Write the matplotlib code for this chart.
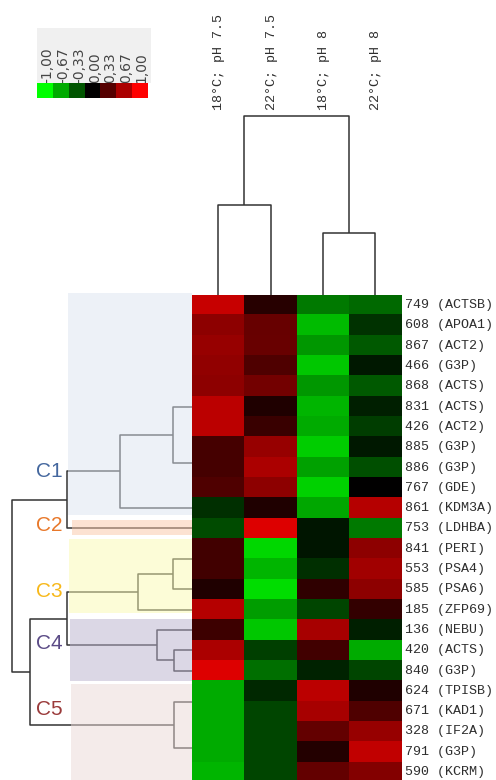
import numpy as np
import matplotlib
matplotlib.use("Agg")
import matplotlib.pyplot as plt
from matplotlib.colors import LinearSegmentedColormap
from matplotlib.patches import Rectangle
from matplotlib.transforms import blended_transform_factory, offset_copy

# ---------------- data ----------------
conditions = ["18°C; pH 7.5", "22°C; pH 7.5", "18°C; pH 8", "22°C; pH 8"]
row_ids = ["749", "608", "867", "466", "868", "831", "426", "885", "886", "767",
           "861", "753", "841", "553", "585", "185", "136", "420", "840", "624",
           "671", "328", "791", "590"]
row_genes = ["ACTSB", "APOA1", "ACT2", "G3P", "ACTS", "ACTS", "ACT2", "G3P", "G3P", "GDE",
             "KDM3A", "LDHBA", "PERI", "PSA4", "PSA6", "ZFP69", "NEBU", "ACTS", "G3P", "TPISB",
             "KAD1", "IF2A", "G3P", "KCRM"]
col_18_75 = [0.78, 0.55, 0.59, 0.57, 0.55, 0.73, 0.73, 0.27, 0.27, 0.31,
             -0.18, -0.29, 0.25, 0.25, 0.12, 0.71, 0.24, 0.67, 0.86, -0.67,
             -0.67, -0.67, -0.67, -0.71]
col_22_75 = [0.15, 0.40, 0.41, 0.31, 0.45, 0.12, 0.22, 0.59, 0.67, 0.55,
             0.12, 0.86, -0.84, -0.71, -0.86, -0.61, -0.78, -0.25, -0.43, -0.16,
             -0.27, -0.27, -0.27, -0.27]
col_18_8 = [-0.47, -0.73, -0.59, -0.78, -0.59, -0.71, -0.67, -0.80, -0.63, -0.82,
            -0.65, -0.08, -0.08, -0.18, 0.18, -0.27, 0.65, 0.25, -0.14, 0.73,
            0.65, 0.39, 0.14, 0.39]
col_22_8 = [-0.41, -0.20, -0.35, -0.10, -0.35, -0.12, -0.24, -0.10, -0.31, 0.00,
            0.71, -0.47, 0.55, 0.63, 0.55, 0.20, -0.12, -0.67, -0.27, 0.12,
            0.31, 0.59, 0.75, 0.51]
legend_values = [-1.00, -0.67, -0.33, 0.00, 0.33, 0.67, 1.00]
legend_labels = ["-1,00", "-0,67", "-0,33", "0,00", "0,33", "0,67", "1,00"]

# row dendrogram: stub positions (row units) and merges (a, b, height)
row_leaf_pos = [5.0, 7.76, 10.0, 11.0, 12.5, 14.0, 15.0, 16.0, 17.0, 18.0, 19.56, 21.8]
row_merges = [(0, 1, 0.105), (12, 2, 0.40), (13, 3, 0.697),
              (4, 5, 0.105), (15, 6, 0.30),
              (8, 9, 0.10), (7, 17, 0.196), (16, 18, 0.697),
              (10, 11, 0.10), (19, 20, 0.90), (14, 21, 1.0)]
# column dendrogram
col_merges = [(0, 1, 0.503), (2, 3, 0.346), (4, 5, 1.0)]

clusters = ["C1", "C2", "C3", "C4", "C5"]
cluster_label_pos = [8.2, 10.85, 14.1, 16.65, 19.9]
cluster_span = [(-0.58, 10.34), (10.58, 11.34), (11.53, 15.18), (15.48, 18.51), (18.66, 24.0)]
cluster_left = [0.69, 0.668, 0.685, 0.68, 0.673]
cluster_text_colors = ["#44679e", "#e8782a", "#f7b81a", "#5b4b86", "#9a3a3a"]
cluster_box_colors = ["#dde5f1", "#fbc7a7", "#fbfbb1", "#b9b1cd", "#ebd9d7"]

# ---------------- layout ----------------
W, H = 496, 780
fig = plt.figure(figsize=(W / 100, H / 100), dpi=100)


def fr(x0, y0, x1, y1):
    return [x0 / W, 1 - y1 / H, (x1 - x0) / W, (y1 - y0) / H]


cmap = LinearSegmentedColormap.from_list("gkr", [(0, 1, 0), (0, 0, 0), (1, 0, 0)])
data = np.array([col_18_75, col_22_75, col_18_8, col_22_8]).T
nrow = len(row_ids)
hm_top, row_h = 295, 20.3
hm_bot = hm_top + nrow * row_h
line_c = "#333333"
mono = ["Liberation Mono", "DejaVu Sans Mono"]
txt_c = "#2e2e2e"

# heatmap
ax = fig.add_axes(fr(192, hm_top, 401.7, hm_bot))
ax.imshow(data, cmap=cmap, vmin=-1, vmax=1, aspect="auto", interpolation="nearest")
ax.set_xticks([])
ax.set_yticks([])
for s in ax.spines.values():
    s.set_visible(False)
ytr = offset_copy(blended_transform_factory(ax.transAxes, ax.transData), fig=fig,
                  x=3.3, y=0, units="dots")
for r, (i, g) in enumerate(zip(row_ids, row_genes)):
    ax.text(1.0, r, f"{i} ({g})", transform=ytr, ha="left", va="center",
            family=mono, fontsize=9.6, color=txt_c, clip_on=False)

# column dendrogram
cax = fig.add_axes(fr(192, 116, 401.7, hm_top))
cax.set_xlim(-0.5, len(conditions) - 0.5)
cax.set_ylim(0, 1.0)
pos = list(range(len(conditions)))
hts = [0.0] * len(conditions)
for a, b, h in col_merges:
    cax.plot([pos[a], pos[a], pos[b], pos[b]], [hts[a], h, h, hts[b]],
             color=line_c, lw=1.1, clip_on=False, solid_capstyle="butt")
    pos.append((pos[a] + pos[b]) / 2)
    hts.append(h)
xtr = offset_copy(blended_transform_factory(cax.transData, cax.transAxes), fig=fig,
                  x=1.0, y=6, units="dots")
for c, name in enumerate(conditions):
    cax.text(c, 1.0, name, transform=xtr, rotation=90, ha="center", va="bottom",
             family=mono, fontsize=9.6, color=txt_c, clip_on=False)
cax.axis("off")

# row dendrogram
rax = fig.add_axes(fr(12.3, hm_top, 192, hm_bot))
rax.set_xlim(1.0, 0.0)
rax.set_ylim(nrow - 0.5, -0.5)
rpos = list(row_leaf_pos)
rhts = [0.0] * len(row_leaf_pos)
for a, b, h in row_merges:
    rax.plot([rhts[a], h, h, rhts[b]], [rpos[a], rpos[a], rpos[b], rpos[b]],
             color=line_c, lw=1.1, clip_on=False, solid_capstyle="butt", zorder=2)
    rpos.append((rpos[a] + rpos[b]) / 2)
    rhts.append(h)
for (y0, y1), xl, bc in zip(cluster_span, cluster_left, cluster_box_colors):
    rax.add_patch(Rectangle((0, y0), xl, y1 - y0, facecolor=bc, edgecolor="none",
                            alpha=0.5, zorder=3, clip_on=False))
for name, yp, tc in zip(clusters, cluster_label_pos, cluster_text_colors):
    rax.text(0.718, yp, name, ha="right", va="center", color=tc, fontsize=15,
             family=["Liberation Sans", "DejaVu Sans"], zorder=4)
rax.axis("off")

# colour key
kb = fig.add_axes(fr(36.7, 28.3, 150.7, 82.7))
kb.set_facecolor("#f0f0f0")
kb.set_xlim(36.7, 150.7)
kb.set_ylim(0, 1)
kb.set_xticks([])
kb.set_yticks([])
for s in kb.spines.values():
    s.set_visible(False)
sw = (146.7 - 36.7) / len(legend_values)
for i, lab in enumerate(legend_labels):
    kb.text(36.7 + sw * (i + 0.5) + 3, 0.0, lab, rotation=90, ha="center", va="bottom",
            fontsize=10, color="#444444")
kax = fig.add_axes(fr(36.7, 82.7, 146.7, 98.3))
kax.imshow(np.array([legend_values]), cmap=cmap, vmin=-1, vmax=1, aspect="auto",
           interpolation="nearest")
kax.axis("off")

fig.savefig("out.png", dpi=100)
